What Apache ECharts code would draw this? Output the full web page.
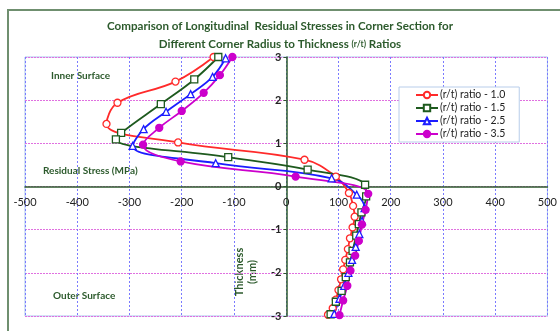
<!DOCTYPE html>
<html lang="en">
<head>
    <meta charset="UTF-8">
    <title>Longitudinal Residual Stresses</title>
    <style>
        * { margin: 0; padding: 0; }
        body { background: #fff; }
        #chart { width: 560px; height: 331px; }
    </style>
</head>
<body>
    <div id="chart"></div>
    <script src="https://cdn.jsdelivr.net/npm/echarts@6.0.0/dist/echarts.min.js"></script>
    <script type="text/javascript">
        // thickness (mm) and stress (MPa) for each r/t ratio
        var thick10 = [3, 2.43, 1.94, 1.45, 1.02, 0.62, 0.23, -0.15, -0.45, -0.7, -0.95, -1.2, -1.45, -1.7, -1.92, -2.15, -2.4, -2.62, -2.82, -2.97];
        var stress10 = [-139, -212, -323, -344, -207, 35, 95, 120, 128, 131, 127, 122, 118, 113, 109, 105, 100, 95, 89, 80];

        var thick15 = [3, 2.48, 1.91, 1.24, 1.09, 0.68, 0.39, 0.04, -0.23, -0.6, -0.87, -1.14, -1.49, -1.76, -2.1, -2.42, -2.67, -2.96];
        var stress15 = [-130, -176, -240, -316, -326, -111, 41, 151, 153, 144, 139, 134, 127, 122, 114, 106, 95, 85];

        var thick25 = [2.97, 2.54, 2.14, 1.73, 1.33, 0.94, 0.54, 0.19, -0.19, -0.5, -0.8, -1.1, -1.4, -1.7, -2.0, -2.3, -2.6, -2.95];
        var stress25 = [-116, -141, -183, -230, -273, -294, -135, 87, 135, 150, 145, 140, 133, 126, 119, 111, 102, 92];

        var thick35 = [3, 2.58, 2.17, 1.75, 1.36, 0.97, 0.58, 0.23, -0.17, -0.54, -0.88, -1.26, -1.6, -1.95, -2.3, -2.64, -2.98];
        var stress35 = [-103, -127, -158, -200, -243, -274, -202, 18, 157, 152, 145, 139, 132, 123, 117, 109, 102];

        var seriesNames = ['(r/t) ratio - 1.0', '(r/t) ratio - 1.5', '(r/t) ratio - 2.5', '(r/t) ratio - 3.5'];

        function pairs(xs, ys) {
            var out = [];
            for (var i = 0; i < xs.length; i++) out.push([xs[i], ys[i]]);
            return out;
        }

        var darkGreen = '#2c5a2c';
        var font = 'Lato';
        var gLeft = 25, gRight = 12, gTop = 57, gBottom = 15;
        var gW = 560 - gLeft - gRight, gH = 331 - gTop - gBottom;

        var chart = echarts.init(document.getElementById('chart'));

        function line(name, data, color, symbol, filled) {
            return {
                name: name,
                type: 'line',
                data: data,
                smooth: 0.4,
                symbol: symbol,
                symbolSize: 7,
                lineStyle: { color: color, width: 1.8 },
                itemStyle: { color: filled ? color : '#fff', borderColor: color, borderWidth: 1.3 },
                z: 3
            };
        }

        chart.setOption({
            animation: false,
            backgroundColor: '#fff',
            title: {
                text: 'Comparison of Longitudinal  Residual Stresses in Corner Section for\nDifferent Corner Radius to Thickness {s|(r/t)} Ratios',
                left: 'center',
                top: 12,
                padding: [5, 5, 5, 19], // shifts the centred title a little right, as in the original
                textStyle: {
                    color: darkGreen, fontSize: 11.6, fontWeight: 'bold', fontFamily: font, lineHeight: 18,
                    rich: { s: { fontSize: 8.5, fontWeight: 'bold', color: darkGreen, fontFamily: font } }
                }
            },
            legend: {
                orient: 'vertical',
                left: 399,
                top: 87,
                padding: [2, 14, 2, 16],
                itemGap: 1,
                itemWidth: 22,
                itemHeight: 8,
                borderColor: '#b8cdea',
                borderWidth: 1,
                backgroundColor: '#fff',
                textStyle: { fontSize: 10.5, lineHeight: 12, fontFamily: font, color: '#222', padding: [0, 0, 0, -3] },
                data: seriesNames
            },
            grid: {
                left: gLeft, right: gRight, top: gTop, bottom: gBottom,
                show: true,
                borderColor: '#a8c4ec',
                borderWidth: 1
            },
            xAxis: {
                type: 'value',
                min: -500, max: 500, interval: 100,
                position: 'bottom',
                offset: -gH / 2,
                axisLine: { onZero: false, lineStyle: { color: darkGreen, width: 1.5 } },
                axisTick: { show: false },
                axisLabel: { color: '#222', fontSize: 11, fontFamily: font, margin: 10 },
                splitLine: { lineStyle: { color: '#7a7aff', type: [2, 2], width: 1 } }
            },
            yAxis: {
                type: 'value',
                min: -3, max: 3, interval: 1,
                position: 'left',
                offset: -gW / 2,
                axisLine: { onZero: false, lineStyle: { color: darkGreen, width: 1.5 } },
                axisTick: { show: true, length: 3, lineStyle: { color: darkGreen } },
                axisLabel: { color: '#222', fontSize: 11, fontWeight: 'bold', fontFamily: font, margin: 5 },
                splitLine: { lineStyle: { color: '#e070e0', type: [2, 1], width: 1 } }
            },
            graphic: [
                {
                    type: 'rect', silent: true, z: -1,
                    shape: { x: 8, y: 10, width: 700, height: 500 },
                    style: { fill: 'none', stroke: '#6f8f6f', lineWidth: 2 }
                },
                {
                    type: 'text', left: 51, top: 71,
                    style: { text: 'Inner Surface', fill: darkGreen, font: 'bold 10px Lato' }
                },
                {
                    type: 'text', left: 43, top: 166,
                    style: { text: 'Residual Stress (MPa)', fill: darkGreen, font: 'bold 10px Lato' }
                },
                {
                    type: 'text', left: 53, top: 291,
                    style: { text: 'Outer Surface', fill: darkGreen, font: 'bold 10px Lato' }
                },
                {
                    type: 'text', x: 246, y: 272, rotation: Math.PI / 2,
                    style: {
                        text: 'Thickness\n(mm)', fill: darkGreen, font: 'bold 11px Lato',
                        align: 'center', verticalAlign: 'middle', lineHeight: 13
                    }
                }
            ],
            series: [
                line(seriesNames[0], pairs(stress10, thick10), '#ff2a2a', 'circle', false),
                line(seriesNames[1], pairs(stress15, thick15), '#1e5a1e', 'rect', false),
                line(seriesNames[2], pairs(stress25, thick25), '#1c1cff', 'triangle', false),
                line(seriesNames[3], pairs(stress35, thick35), '#cc00cc', 'circle', true)
            ]
        });
    </script>
</body>
</html>
